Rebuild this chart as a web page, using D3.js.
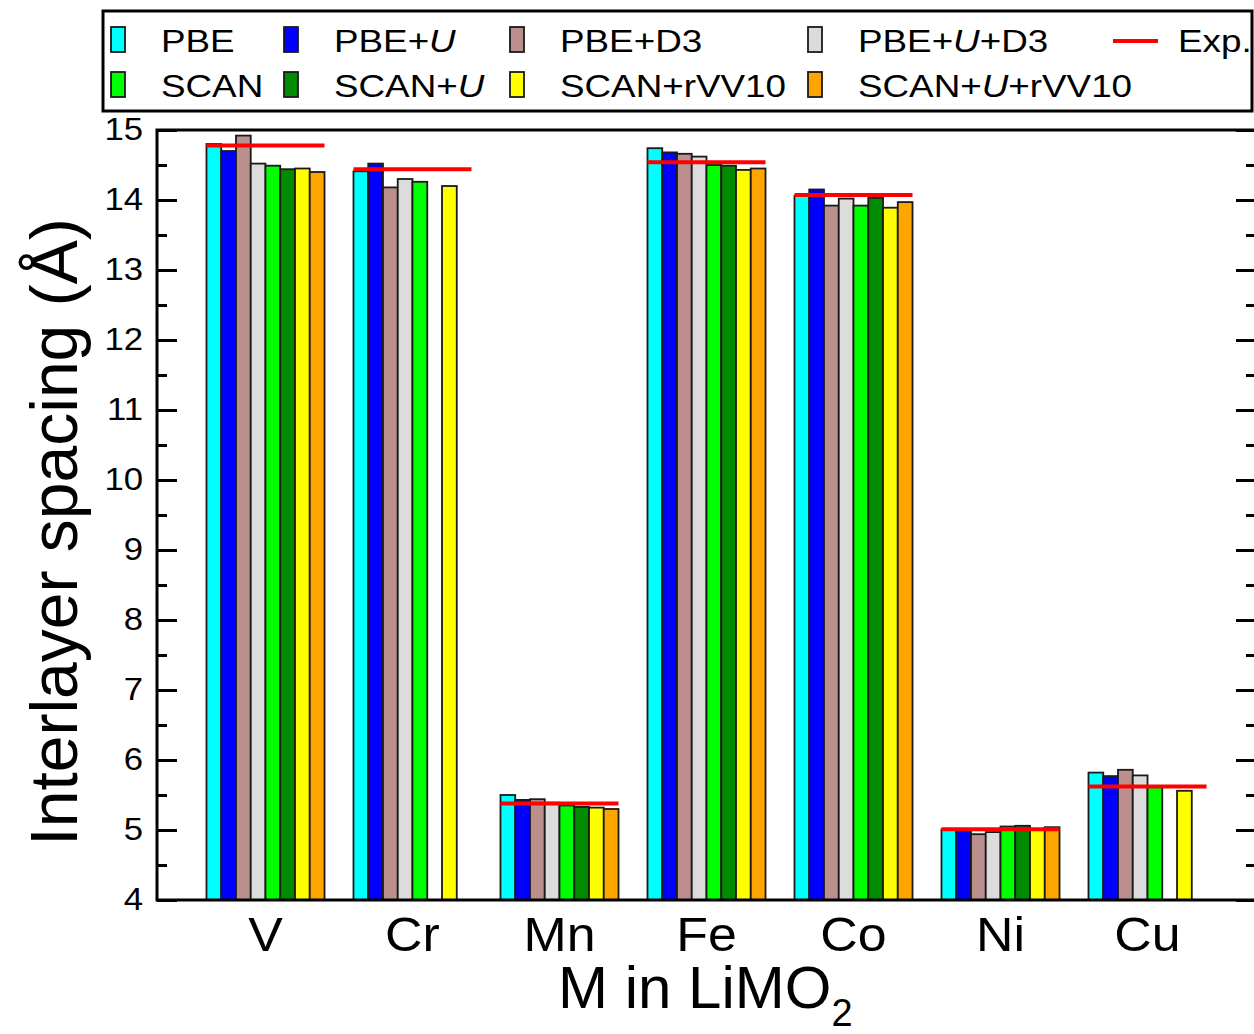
<!DOCTYPE html>
<html>
<head>
<meta charset="utf-8">
<script src="https://cdn.jsdelivr.net/npm/d3@7"></script>
<style>
  body { margin: 0; background: #fff; }
  svg { display: block; font-family: "Liberation Sans", Arial, Helvetica, sans-serif; }
</style>
</head>
<body>
<svg id="chart" width="1254" height="1034"></svg>
<script>
/////////////////////////////////////////////////
/* Data */
/////////////////////////////////////////////////
const categories = ["V", "Cr", "Mn", "Fe", "Co", "Ni", "Cu"];
const methods = ["PBE", "PBE+U", "PBE+D3", "PBE+U+D3", "SCAN", "SCAN+U", "SCAN+rVV10", "SCAN+U+rVV10"];
const colors = ["#00ffff", "#0000ff", "#bc8f8f", "#dcdcdc", "#00ff00", "#008b00", "#ffff00", "#ffa500"];

const pbe        = [14.80, 14.41, 5.50, 14.74, 14.06, 5.01, 5.82];
const pbeU       = [14.70, 14.52, 5.43, 14.68, 14.15, 5.00, 5.77];
const pbeD3      = [14.92, 14.18, 5.44, 14.66, 13.92, 4.94, 5.86];
const pbeUD3     = [14.52, 14.30, 5.39, 14.62, 14.02, 4.97, 5.78];
const scan       = [14.49, 14.26, 5.35, 14.50, 13.92, 5.05, 5.62];
const scanU      = [14.44, null,  5.33, 14.49, 14.03, 5.06, null];
const scanRvv    = [14.45, 14.20, 5.32, 14.43, 13.89, 5.01, 5.56];
const scanURvv   = [14.40, null,  5.30, 14.45, 13.97, 5.04, null];
const expValues  = [14.78, 14.44, 5.38, 14.54, 14.07, 5.01, 5.62];

const series = [pbe, pbeU, pbeD3, pbeUD3, scan, scanU, scanRvv, scanURvv];
const yTicks = [4, 5, 6, 7, 8, 9, 10, 11, 12, 13, 14, 15];

/////////////////////////////////////////////////
/* Layout */
/////////////////////////////////////////////////
const plotLeft = 157, plotRight = 1256, plotTop = 130, plotBottom = 900;
const svg = d3.select("#chart");

// widen glyphs a bit (the original's font is drawn wider than Liberation Sans)
function stretch(sel, k) {
  sel.each(function() {
    const w = this.getComputedTextLength();
    d3.select(this).attr("textLength", w * k).attr("lengthAdjust", "spacingAndGlyphs");
  });
}

const x = d3.scaleBand().domain(categories).range([plotLeft, plotRight])
    .paddingInner(0.197).paddingOuter(0.3365);
const xs = d3.scaleBand().domain(methods).range([0, x.bandwidth()]);
const y = d3.scaleLinear().domain([4, 15]).range([plotBottom, plotTop]);

// flatten into rows for drawing
const rows = [];
categories.forEach((c, i) => {
  methods.forEach((m, j) => {
    if (series[j][i] != null) rows.push({cat: c, method: m, value: series[j][i], color: colors[j]});
  });
});

// bars
svg.append("g").selectAll("rect")
  .data(rows)
  .join("rect")
    .attr("x", d => x(d.cat) + xs(d.method))
    .attr("y", d => y(d.value))
    .attr("width", xs.bandwidth())
    .attr("height", d => y(4) - y(d.value))
    .attr("fill", d => d.color)
    .attr("stroke", "#1a1a1a")
    .attr("stroke-width", 1.8);

// experimental lines
svg.append("g").selectAll("line")
  .data(categories.map((c, i) => ({cat: c, value: expValues[i]})))
  .join("line")
    .attr("x1", d => x(d.cat))
    .attr("x2", d => x(d.cat) + x.bandwidth())
    .attr("y1", d => y(d.value))
    .attr("y2", d => y(d.value))
    .attr("stroke", "#ff0000")
    .attr("stroke-width", 4);

// y axes (left + mirrored right), major and minor ticks inward
const minorTicks = d3.range(4.5, 15, 1);
function styleAxis(g) {
  g.select(".domain").remove();
  g.selectAll("line").attr("stroke", "#000").attr("stroke-width", 3);
}
const yTickText = svg.append("g").attr("transform", `translate(${plotLeft},0)`)
  .call(d3.axisLeft(y).tickValues(yTicks).tickSize(-20).tickPadding(14).tickFormat(d3.format("d")))
  .call(styleAxis)
  .selectAll("text").attr("font-size", 31).attr("fill", "#000")
  .attr("font-family", "Liberation Sans, Arial, sans-serif");
stretch(yTickText, 1.12);
svg.append("g").attr("transform", `translate(${plotLeft},0)`)
  .call(d3.axisLeft(y).tickValues(minorTicks).tickSize(-10).tickFormat(""))
  .call(styleAxis);
svg.append("g").attr("transform", `translate(${plotRight},0)`)
  .call(d3.axisRight(y).tickValues(yTicks).tickSize(-20).tickFormat(""))
  .call(styleAxis);
svg.append("g").attr("transform", `translate(${plotRight},0)`)
  .call(d3.axisRight(y).tickValues(minorTicks).tickSize(-10).tickFormat(""))
  .call(styleAxis);

// frame
svg.append("rect")
  .attr("x", plotLeft).attr("y", plotTop)
  .attr("width", plotRight - plotLeft).attr("height", plotBottom - plotTop)
  .attr("fill", "none").attr("stroke", "#000").attr("stroke-width", 3);

// category labels
const catText = svg.append("g").selectAll("text")
  .data(categories)
  .join("text")
    .attr("x", d => x(d) + x.bandwidth() / 2)
    .attr("y", 951)
    .attr("text-anchor", "middle")
    .attr("font-size", 48)
    .text(d => d);
stretch(catText, 1.08);

// x title
const xt = svg.append("text").attr("x", 558).attr("y", 1008).attr("font-size", 60);
xt.append("tspan").text("M in LiMO");
xt.append("tspan").attr("dy", 18).attr("font-size", 38).text("2");

// y title
svg.append("text")
  .attr("transform", "translate(77,532) rotate(-90)")
  .attr("text-anchor", "middle")
  .attr("font-size", 66)
  .text("Interlayer spacing (Å)");

/////////////////////////////////////////////////
/* Legend */
/////////////////////////////////////////////////
svg.append("rect")
  .attr("x", 103).attr("y", 11).attr("width", 1149).attr("height", 100)
  .attr("fill", "#fff").attr("stroke", "#000").attr("stroke-width", 3);

const legendCols = [111, 284, 510, 808];
const legendRows = [52, 97];
const legend = svg.append("g");
methods.forEach((m, j) => {
  const col = legendCols[j % 4];
  const base = legendRows[Math.floor(j / 4)];
  legend.append("rect")
    .attr("x", col).attr("y", base - 25).attr("width", 14).attr("height", 25)
    .attr("fill", colors[j]).attr("stroke", "#1a1a1a").attr("stroke-width", 1.8);
  const t = legend.append("text").attr("class", "legend-label")
    .attr("x", col + 50).attr("y", base).attr("font-size", 32);
  m.split(/(U)/).forEach(part => {
    if (part === "") return;
    const s = t.append("tspan").text(part);
    if (part === "U") s.attr("font-style", "italic");
  });
});
legend.append("line")
  .attr("x1", 1113).attr("x2", 1158).attr("y1", 41).attr("y2", 41)
  .attr("stroke", "#ff0000").attr("stroke-width", 4);
legend.append("text").attr("class", "legend-label")
  .attr("x", 1178).attr("y", 52).attr("font-size", 32).text("Exp.");
stretch(legend.selectAll(".legend-label"), 1.15);
</script>
</body>
</html>
